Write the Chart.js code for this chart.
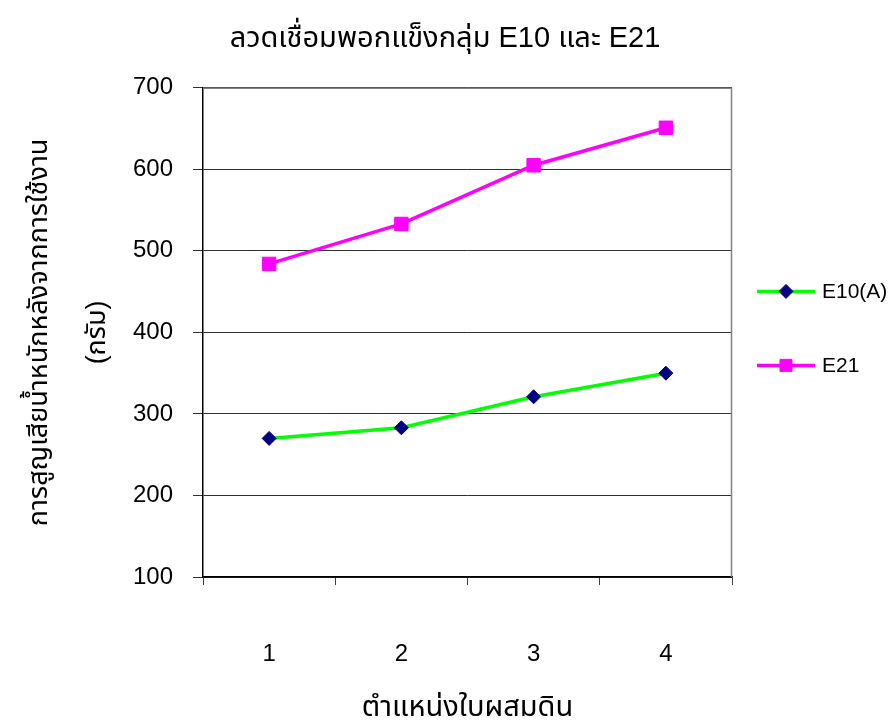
<!DOCTYPE html>
<html>
<head>
<meta charset="utf-8">
<script src="https://cdn.jsdelivr.net/npm/chart.js@4/dist/chart.umd.min.js"></script>
<style>
  html, body { margin: 0; padding: 0; background: #fff; }
  #wrap { width: 890px; height: 720px; }
</style>
</head>
<body>
<div id="wrap"><canvas id="chart" width="890" height="720"></canvas></div>
<script>
const positions = ['1', '2', '3', '4']
const e10 = [270, 283, 321, 350]
const e21 = [484, 533, 605, 651]
const yTicks = [100, 200, 300, 400, 500, 600, 700]

const FONT = "'Liberation Sans', Arial, 'Noto Sans Thai', 'Noto Sans', sans-serif"

// grey frame round the plot area (top and right edges show it)
const plotFrame = {
  id: 'plotFrame',
  beforeDatasetsDraw(chart) {
    const { ctx, chartArea: a } = chart
    ctx.save()
    ctx.strokeStyle = '#808080'
    ctx.lineWidth = 1.5
    ctx.beginPath()
    ctx.moveTo(a.left, a.top + 0.5)
    ctx.lineTo(a.right - 0.5, a.top + 0.5)
    ctx.lineTo(a.right - 0.5, a.bottom)
    ctx.stroke()
    ctx.restore()
  },
}

// legend on the right: line sample with marker, then label
const sideLegend = {
  id: 'sideLegend',
  afterDraw(chart) {
    const { ctx, chartArea: a } = chart
    const x0 = a.right + 25
    const mid = (a.top + a.bottom) / 2 - 4
    chart.data.datasets.forEach((ds, i) => {
      const y = mid - 37 + i * 74
      ctx.save()
      ctx.strokeStyle = ds.borderColor
      ctx.lineWidth = 3.5
      ctx.beginPath()
      ctx.moveTo(x0, y)
      ctx.lineTo(x0 + 58, y)
      ctx.stroke()
      ctx.fillStyle = ds.pointBackgroundColor
      ctx.strokeStyle = ds.pointBorderColor
      ctx.lineWidth = 1
      Chart.helpers.drawPoint(ctx, {
        pointStyle: ds.pointStyle,
        radius: ds.pointStyle === 'rect' ? 8.5 : 7,
        rotation: 0,
        borderWidth: 1,
      }, x0 + 29, y)
      ctx.fillStyle = '#000'
      ctx.font = '21px ' + FONT
      ctx.textBaseline = 'middle'
      ctx.fillText(ds.label, x0 + 65, y + 1)
      ctx.restore()
    })
  },
}

new Chart(document.getElementById('chart'), {
  type: 'line',
  data: {
    labels: positions,
    datasets: [
      {
        label: 'E10(A)',
        data: e10,
        borderColor: '#00ff00',
        borderWidth: 3.5,
        pointStyle: 'rectRot',
        pointRadius: 7,
        pointBackgroundColor: '#000080',
        pointBorderColor: '#000080',
        pointBorderWidth: 1,
        tension: 0,
      },
      {
        label: 'E21',
        data: e21,
        borderColor: '#ff00ff',
        borderWidth: 3.5,
        pointStyle: 'rect',
        pointRadius: 9.5,
        pointBackgroundColor: '#ff00ff',
        pointBorderColor: '#ff00ff',
        pointBorderWidth: 1,
        tension: 0,
      },
    ],
  },
  options: {
    responsive: false,
    animation: false,
    layout: { padding: 0 },
    plugins: {
      legend: { display: false },
      tooltip: { enabled: false },
      title: {
        display: true,
        text: 'ลวดเชื่อมพอกแข็งกลุ่ม E10 และ E21',
        color: '#000',
        font: { family: FONT, size: 29, weight: 'normal', lineHeight: 1.2 },
        padding: { top: 22, bottom: 31 },
      },
    },
    scales: {
      x: {
        offset: true,
        grid: {
          offset: true,
          drawOnChartArea: false,
          tickLength: 8,
          color: '#404040',
        },
        border: { color: '#000', width: 1.5 },
        ticks: {
          color: '#000',
          font: { family: FONT, size: 24 },
          padding: 55,
        },
        title: {
          display: true,
          text: 'ตำแหน่งใบผสมดิน',
          color: '#000',
          font: { family: FONT, size: 29, lineHeight: 1 },
          padding: { top: 0, bottom: -2 },
        },
        afterFit(scale) { scale.height = 143 },
      },
      y: {
        min: 100,
        max: 700,
        afterBuildTicks(scale) { scale.ticks = yTicks.map((v) => ({ value: v })) },
        grid: {
          color: '#303030',
          lineWidth: 1,
          tickLength: 10,
        },
        border: { color: '#000', width: 1.5 },
        ticks: {
          color: '#000',
          font: { family: FONT, size: 24 },
          padding: 20,
        },
        title: {
          display: true,
          text: ['การสูญเสียน้ำหนักหลังจากการใช้งาน', '(กรัม)'],
          color: '#000',
          font: { family: FONT, size: 27, lineHeight: 58 / 27 },
          padding: { top: 11, bottom: 0 },
        },
        afterFit(scale) { scale.width = 203 },
      },
      // empty axis on the right keeps room for the legend
      side: {
        position: 'right',
        display: true,
        grid: { display: false, drawTicks: false },
        border: { display: false },
        ticks: { display: false },
        afterFit(scale) { scale.width = 158 },
      },
    },
  },
  plugins: [plotFrame, sideLegend],
})
</script>
</body>
</html>
